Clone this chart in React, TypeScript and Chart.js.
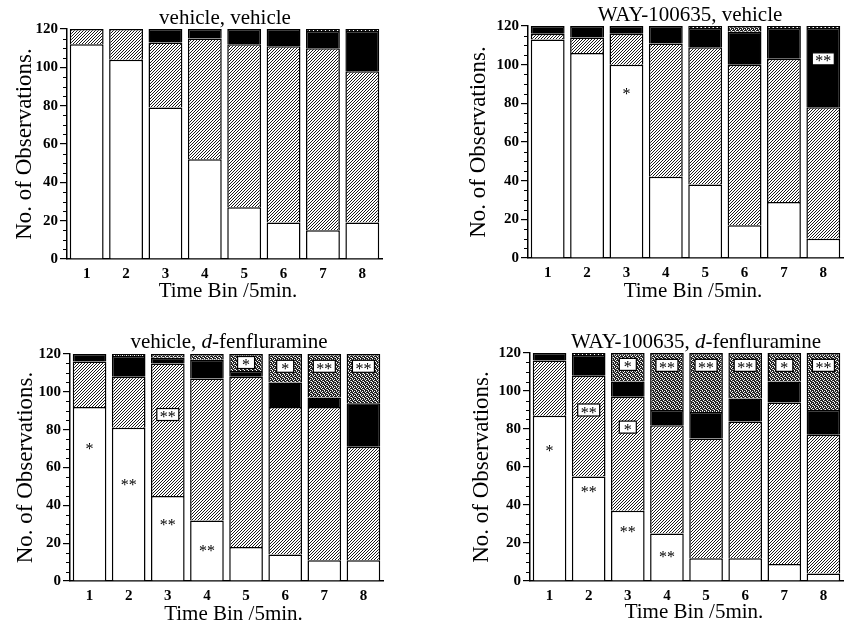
import React, { useEffect, useRef } from 'react';
import { Chart, registerables } from 'chart.js';

Chart.register(...registerables);

// ---------- data ----------
const BINS = ['1', '2', '3', '4', '5', '6', '7', '8'];
const Y_MIN = 0;
const Y_MAX = 120;
const Y_STEP = 20;
const Y_MINOR_STEP = 5;

const X_TITLE = 'Time Bin /5min.';
const Y_TITLE = 'No. of Observations.';

// Panel 1: vehicle, vehicle
const P1_WHITE = [112, 104, 79, 52, 27, 19, 15, 19];
const P1_HATCH = [8, 16, 34, 63, 85, 92, 95, 79];
const P1_BLACK = [0, 0, 7, 5, 8, 9, 9, 21];
const P1_DOT = [0, 0, 0, 0, 0, 0, 1, 1];

// Panel 2: WAY-100635, vehicle
const P2_WHITE = [113, 106, 100, 42, 38, 17, 29, 10];
const P2_HATCH = [3, 8, 16, 69, 71, 83, 74, 68];
const P2_BLACK = [4, 6, 4, 9, 10, 17, 16, 41];
const P2_DOT = [0, 0, 0, 0, 1, 3, 1, 1];

// Panel 3: vehicle, d-fenfluramine
const P3_WHITE = [92, 81, 45, 32, 18, 14, 11, 11];
const P3_HATCH = [24, 27, 70, 75, 90, 78, 81, 60];
const P3_BLACK = [4, 11, 3, 10, 3, 13, 5, 23];
const P3_DOT = [0, 1, 2, 3, 9, 15, 23, 26];

// Panel 4: WAY-100635, d-fenfluramine
const P4_WHITE = [87, 55, 37, 25, 12, 12, 9, 4];
const P4_HATCH = [29, 53, 60, 57, 63, 72, 85, 73];
const P4_BLACK = [4, 11, 8, 8, 14, 12, 11, 13];
const P4_DOT = [0, 1, 15, 30, 31, 24, 15, 30];

type Mark = { bin: number; value: number; text: string; boxed: boolean };

const P1_MARKS: Mark[] = [];
const P2_MARKS: Mark[] = [
  { bin: 3, value: 86, text: '*', boxed: false },
  { bin: 8, value: 103, text: '**', boxed: true },
];
const P3_MARKS: Mark[] = [
  { bin: 1, value: 71, text: '*', boxed: false },
  { bin: 2, value: 52, text: '**', boxed: false },
  { bin: 3, value: 88, text: '**', boxed: true },
  { bin: 3, value: 31, text: '**', boxed: false },
  { bin: 4, value: 17, text: '**', boxed: false },
  { bin: 5, value: 115.5, text: '*', boxed: true },
  { bin: 6, value: 113.5, text: '*', boxed: true },
  { bin: 7, value: 113.5, text: '**', boxed: true },
  { bin: 8, value: 113.5, text: '**', boxed: true },
];
const P4_MARKS: Mark[] = [
  { bin: 1, value: 70, text: '*', boxed: false },
  { bin: 2, value: 90, text: '**', boxed: true },
  { bin: 2, value: 48, text: '**', boxed: false },
  { bin: 3, value: 114, text: '*', boxed: true },
  { bin: 3, value: 81, text: '*', boxed: true },
  { bin: 3, value: 27, text: '**', boxed: false },
  { bin: 4, value: 113.5, text: '**', boxed: true },
  { bin: 4, value: 14, text: '**', boxed: false },
  { bin: 5, value: 113.5, text: '**', boxed: true },
  { bin: 6, value: 113.5, text: '**', boxed: true },
  { bin: 7, value: 113.5, text: '*', boxed: true },
  { bin: 8, value: 113.5, text: '**', boxed: true },
];

type TitlePart = { t: string; italic?: boolean };
const P1_TITLE: TitlePart[] = [{ t: 'vehicle, vehicle' }];
const P2_TITLE: TitlePart[] = [{ t: 'WAY-100635, vehicle' }];
const P3_TITLE: TitlePart[] = [{ t: 'vehicle, ' }, { t: 'd', italic: true }, { t: '-fenfluramine' }];
const P4_TITLE: TitlePart[] = [{ t: 'WAY-100635, ' }, { t: 'd', italic: true }, { t: '-fenfluramine' }];

// ---------- layout ----------
type Rect = { left: number; top: number; width: number; height: number };
type Area = { left: number; top: number; right: number; bottom: number };
type PanelSpec = {
  title: TitlePart[];
  white: number[];
  hatch: number[];
  black: number[];
  dot: number[];
  marks: Mark[];
  box: Rect;
  area: Area;
  titleDx: number;
  titleDy: number;
  xTitleDx: number;
  xTitleDy: number;
  yTitleDx: number;
};

const PANELS: PanelSpec[] = [
  {
    title: P1_TITLE, white: P1_WHITE, hatch: P1_HATCH, black: P1_BLACK, dot: P1_DOT, marks: P1_MARKS,
    box: { left: 0, top: 0, width: 390, height: 304 },
    area: { left: 67, top: 29, right: 382, bottom: 259 },
    titleDx: 0.5, titleDy: 5, xTitleDx: 3.5, xTitleDy: 38, yTitleDx: -42,
  },
  {
    title: P2_TITLE, white: P2_WHITE, hatch: P2_HATCH, black: P2_BLACK, dot: P2_DOT, marks: P2_MARKS,
    box: { left: 430, top: 0, width: 423, height: 304 },
    area: { left: 528, top: 26, right: 843, bottom: 258 },
    titleDx: 4.5, titleDy: 5, xTitleDx: 7.5, xTitleDy: 39, yTitleDx: -49,
  },
  {
    title: P3_TITLE, white: P3_WHITE, hatch: P3_HATCH, black: P3_BLACK, dot: P3_DOT, marks: P3_MARKS,
    box: { left: 0, top: 310, width: 393, height: 315 },
    area: { left: 70, top: 354, right: 383, bottom: 581 },
    titleDx: 2.5, titleDy: 6, xTitleDx: 7, xTitleDy: 39, yTitleDx: -44,
  },
  {
    title: P4_TITLE, white: P4_WHITE, hatch: P4_HATCH, black: P4_BLACK, dot: P4_DOT, marks: P4_MARKS,
    box: { left: 430, top: 310, width: 423, height: 315 },
    area: { left: 530, top: 353, right: 843, bottom: 581 },
    titleDx: 9.5, titleDy: 5, xTitleDx: 7.5, xTitleDy: 37, yTitleDx: -48,
  },
];

const SERIF = '"Liberation Serif", "Times New Roman", Times, serif';

function makeHatch(): CanvasPattern | string {
  const n = 3;
  const c = document.createElement('canvas');
  c.width = n;
  c.height = n;
  const g = c.getContext('2d');
  if (!g) return '#999';
  g.fillStyle = '#fff';
  g.fillRect(0, 0, n, n);
  for (let x = 0; x < n; x++) {
    for (let y = 0; y < n; y++) {
      const k = (x + y) % n;
      if (k === n - 1) {
        g.fillStyle = '#1a1a1a';
        g.fillRect(x, y, 1, 1);
      }
    }
  }
  return g.createPattern(c, 'repeat') || '#999';
}

function makeStipple(): CanvasPattern | string {
  const c = document.createElement('canvas');
  c.width = 4;
  c.height = 4;
  const g = c.getContext('2d');
  if (!g) return '#555';
  g.fillStyle = '#222';
  g.fillRect(0, 0, 4, 4);
  g.fillStyle = '#fff';
  const whites = [[0, 0], [2, 1], [1, 2], [3, 3]];
  for (const [x, y] of whites) g.fillRect(x, y, 1, 1);
  g.fillStyle = '#999';
  const greys = [[2, 3], [0, 1]];
  for (const [x, y] of greys) g.fillRect(x, y, 1, 1);
  return g.createPattern(c, 'repeat') || '#555';
}

function PanelChart({ spec }: { spec: PanelSpec }) {
  const ref = useRef<HTMLCanvasElement | null>(null);

  useEffect(() => {
    const canvas = ref.current;
    if (!canvas) return;
    const { box, area } = spec;
    const yWidth = area.left - box.left;
    const xHeight = box.top + box.height - area.bottom;
    const padTop = area.top - box.top;
    const padRight = box.left + box.width - area.right;
    const hatch = makeHatch();
    const stipple = makeStipple();

    const decor = {
      id: 'decor',
      afterDraw(chart: any) {
        const ctx: CanvasRenderingContext2D = chart.ctx;
        const ca = chart.chartArea;
        const ys = chart.scales.y;
        const xs = chart.scales.x;
        ctx.save();
        // minor ticks
        ctx.strokeStyle = '#000';
        ctx.lineWidth = 1;
        for (let v = Y_MIN; v <= Y_MAX; v += Y_MINOR_STEP) {
          if (v % Y_STEP === 0) continue;
          const py = Math.round(ys.getPixelForValue(v)) + 0.5;
          ctx.beginPath();
          ctx.moveTo(ca.left - 4, py);
          ctx.lineTo(ca.left, py);
          ctx.stroke();
        }
        // marks
        ctx.fillStyle = '#000';
        ctx.font = `16px ${SERIF}`;
        ctx.textAlign = 'center';
        ctx.textBaseline = 'alphabetic';
        for (const m of spec.marks) {
          const px = xs.getPixelForValue(m.bin - 1);
          const py = ys.getPixelForValue(m.value);
          const w = ctx.measureText(m.text).width;
          if (m.boxed) {
            const bw = Math.max(w + 6, 17);
            const bh = 12;
            ctx.fillStyle = '#fff';
            ctx.fillRect(px - bw / 2, py - bh / 2, bw, bh);
            ctx.strokeStyle = '#000';
            ctx.lineWidth = 1.2;
            ctx.strokeRect(px - bw / 2, py - bh / 2, bw, bh);
            ctx.fillStyle = '#000';
          }
          ctx.fillText(m.text, px, py + 7.5);
        }
        // title
        const cx = (ca.left + ca.right) / 2;
        ctx.textAlign = 'left';
        ctx.textBaseline = 'alphabetic';
        let total = 0;
        const widths: number[] = [];
        for (const p of spec.title) {
          ctx.font = `${p.italic ? 'italic ' : ''}21px ${SERIF}`;
          const w = ctx.measureText(p.t).width;
          widths.push(w);
          total += w;
        }
        let tx = cx + spec.titleDx - total / 2;
        spec.title.forEach((p, i) => {
          ctx.font = `${p.italic ? 'italic ' : ''}21px ${SERIF}`;
          ctx.fillText(p.t, tx, ca.top - spec.titleDy);
          tx += widths[i];
        });
        // x title
        ctx.font = `21px ${SERIF}`;
        ctx.textAlign = 'center';
        ctx.fillText(X_TITLE, cx + spec.xTitleDx, ca.bottom + spec.xTitleDy);
        // y title
        ctx.translate(ca.left + spec.yTitleDx, (ca.top + ca.bottom) / 2);
        ctx.rotate(-Math.PI / 2);
        ctx.font = `23px ${SERIF}`;
        ctx.textBaseline = 'middle';
        ctx.fillText(Y_TITLE, 0, 0);
        ctx.restore();
      },
    };

    const common = {
      borderColor: '#000',
      borderWidth: 1.5,
      barPercentage: 0.86,
      categoryPercentage: 1,
    };

    const chart = new Chart(canvas, {
      type: 'bar',
      data: {
        labels: BINS,
        datasets: [
          { label: 'white', data: spec.white, backgroundColor: '#fff', ...common },
          { label: 'hatched', data: spec.hatch, backgroundColor: hatch as any, ...common },
          { label: 'black', data: spec.black, backgroundColor: '#000', ...common },
          { label: 'stippled', data: spec.dot, backgroundColor: stipple as any, ...common },
        ],
      },
      options: {
        animation: false,
        responsive: false,
        devicePixelRatio: 1,
        layout: { padding: { left: 0, top: padTop, right: padRight, bottom: 0 } },
        plugins: {
          legend: { display: false },
          tooltip: { enabled: false },
          title: { display: false },
        },
        scales: {
          x: {
            stacked: true,
            offset: true,
            grid: { display: false, drawTicks: false },
            border: { display: true, color: '#000', width: 1.5 },
            ticks: {
              color: '#000',
              font: { family: SERIF, size: 15, weight: 'bold' },
              padding: 6,
              maxRotation: 0,
              autoSkip: false,
            },
            afterFit: (s: any) => {
              s.height = xHeight;
            },
          },
          y: {
            stacked: true,
            min: Y_MIN,
            max: Y_MAX,
            grid: {
              display: true,
              drawOnChartArea: false,
              drawTicks: true,
              tickLength: 7,
              color: '#000',
              lineWidth: 1.2,
            },
            border: { display: true, color: '#000', width: 1.5 },
            ticks: {
              stepSize: Y_STEP,
              color: '#000',
              font: { family: SERIF, size: 15, weight: 'bold' },
              padding: 2,
            },
            afterFit: (s: any) => {
              s.width = yWidth;
            },
          },
        },
      } as any,
      plugins: [decor],
    });

    return () => chart.destroy();
  }, [spec]);

  return (
    <canvas
      ref={ref}
      width={spec.box.width}
      height={spec.box.height}
      style={{
        position: 'absolute',
        left: spec.box.left,
        top: spec.box.top,
        width: spec.box.width,
        height: spec.box.height,
      }}
    />
  );
}

export default function App() {
  return (
    <div
      style={{
        position: 'absolute',
        left: 0,
        top: 0,
        width: 853,
        height: 625,
        background: '#fff',
        overflow: 'hidden',
      }}
    >
      {PANELS.map((p, i) => (
        <PanelChart key={i} spec={p} />
      ))}
    </div>
  );
}
